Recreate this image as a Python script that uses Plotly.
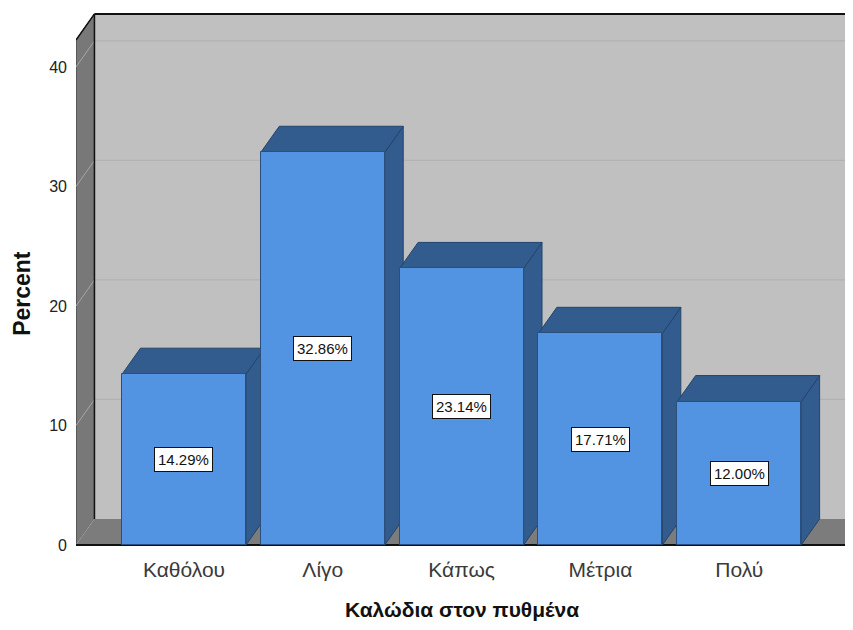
import plotly.graph_objects as go

# ---- data ----
categories = ["Καθόλου", "Λίγο", "Κάπως", "Μέτρια", "Πολύ"]
percents = [14.29, 32.86, 23.14, 17.71, 12.00]
y_ticks = [0, 10, 20, 30, 40]
x_title = "Καλώδια στον πυθμένα"
y_title = "Percent"

# ---- style / geometry (data units) ----
FRONT = "#5294e2"
DARK = "#335c8e"
WALL_BACK = "#c0c0c0"
WALL_SIDE = "#787878"
FLOOR = "#7c7c7c"
bar_w = 0.893
ddx = 0.133          # depth offset x (category units)
ddy = 2.18           # depth offset y (percent units)
x0 = -0.778          # left edge of front plane
x_floor_right = 4.78
x_max = 4.82
y_min, y_max = -0.25, 44.77
wall_top = 42.26     # top of walls (front coords)

xs = list(range(len(categories)))
shapes = []

def poly(pts, fill, line_color=None, line_width=0, layer="below"):
    path = "M " + " L ".join(f"{px},{py}" for px, py in pts) + " Z"
    return dict(type="path", path=path, xref="x", yref="y", fillcolor=fill,
                line=dict(color=line_color or fill, width=line_width), layer=layer)

# back wall
shapes.append(poly([(x0 + ddx, ddy), (x0 + ddx, wall_top + ddy), (x_max + 0.2, wall_top + ddy),
                    (x_max + 0.2, ddy)], WALL_BACK))
# floor
shapes.append(poly([(x0, 0), (x0 + ddx, ddy), (x_max + 0.3, ddy), (x_floor_right, 0)], FLOOR))
# left wall
shapes.append(poly([(x0, 0), (x0, wall_top), (x0 + ddx, wall_top + ddy), (x0 + ddx, ddy)],
                   WALL_SIDE, "#3a3a3a", 1))
# gridlines
for v in y_ticks:
    if v > 0:
        shapes.append(dict(type="line", xref="x", yref="y", x0=x0 + ddx, x1=x_max + 0.2,
                           y0=v + ddy, y1=v + ddy, line=dict(color="#b2b2b2", width=1.2),
                           layer="below"))
    shapes.append(dict(type="line", xref="x", yref="y", x0=x0, x1=x0 + ddx,
                       y0=v, y1=v + ddy, line=dict(color="#a6a6a6", width=1), layer="below"))
# wall edges
shapes.append(dict(type="line", xref="x", yref="y", x0=x0 + ddx, x1=x0 + ddx, y0=ddy,
                   y1=wall_top + ddy, line=dict(color="#111111", width=1.5), layer="below"))
shapes.append(dict(type="line", xref="x", yref="y", x0=x0 + ddx, x1=x_max + 0.2,
                   y0=wall_top + ddy, y1=wall_top + ddy, line=dict(color="#111111", width=2),
                   layer="below"))
shapes.append(dict(type="line", xref="x", yref="y", x0=x0, x1=x0 + ddx, y0=wall_top,
                   y1=wall_top + ddy, line=dict(color="#111111", width=1.5), layer="below"))
shapes.append(dict(type="line", xref="x", yref="y", x0=x0, x1=x_floor_right, y0=0, y1=0,
                   line=dict(color="#111111", width=2), layer="below"))

# bar side and top faces
for xi, v in zip(xs, percents):
    l, r = xi - bar_w / 2, xi + bar_w / 2
    shapes.append(poly([(r, 0), (r, v), (r + ddx, v + ddy), (r + ddx, ddy)], DARK, "#24446b", 1))
    shapes.append(poly([(l, v), (l + ddx, v + ddy), (r + ddx, v + ddy), (r, v)], DARK, "#24446b", 1))

fig = go.Figure()
fig.add_trace(go.Bar(x=xs, y=percents, width=bar_w, marker=dict(color=FRONT,
                     line=dict(color="#2b4f7c", width=1)), hoverinfo="skip", showlegend=False))

annotations = []
for xi, v in zip(xs, percents):
    annotations.append(dict(x=xi, y=v / 2, xref="x", yref="y", text=f"{v:.2f}%",
                            showarrow=False, bgcolor="white", bordercolor="#111111",
                            borderwidth=1, borderpad=3,
                            font=dict(family="Liberation Sans, Arial", size=15, color="#111111")))
# axis titles
annotations.append(dict(x=-0.0695, y=21.1, xref="paper", yref="y", text=f"<b>{y_title}</b>",
                        textangle=-90, showarrow=False, xanchor="center", yanchor="middle",
                        font=dict(family="Liberation Sans, Arial", size=23, color="#111111")))
annotations.append(dict(x=2, y=-0.1152, xref="x", yref="paper", text=f"<b>{x_title}</b>",
                        showarrow=False, xanchor="center", yanchor="middle",
                        font=dict(family="Liberation Sans, Arial", size=21, color="#111111")))

fig.update_layout(
    width=845, height=622, autosize=False,
    margin=dict(l=68, r=0, t=2, b=82, pad=0),
    paper_bgcolor="white", plot_bgcolor="white",
    shapes=shapes, annotations=annotations,
    font=dict(family="Liberation Sans, Arial", color="#222222"),
    xaxis=dict(range=[x0, x_max], tickvals=xs, ticktext=categories, showgrid=False,
               zeroline=False, showline=False, ticks="", ticklabelstandoff=7,
               tickfont=dict(size=21, color="#3a3a3a")),
    yaxis=dict(range=[y_min, y_max], tickvals=y_ticks, showgrid=False, zeroline=False,
               showline=False, ticks="", ticklabelstandoff=8,
               tickfont=dict(size=16, color="#222222")),
    bargap=0,
)

fig.write_html("out.html")
